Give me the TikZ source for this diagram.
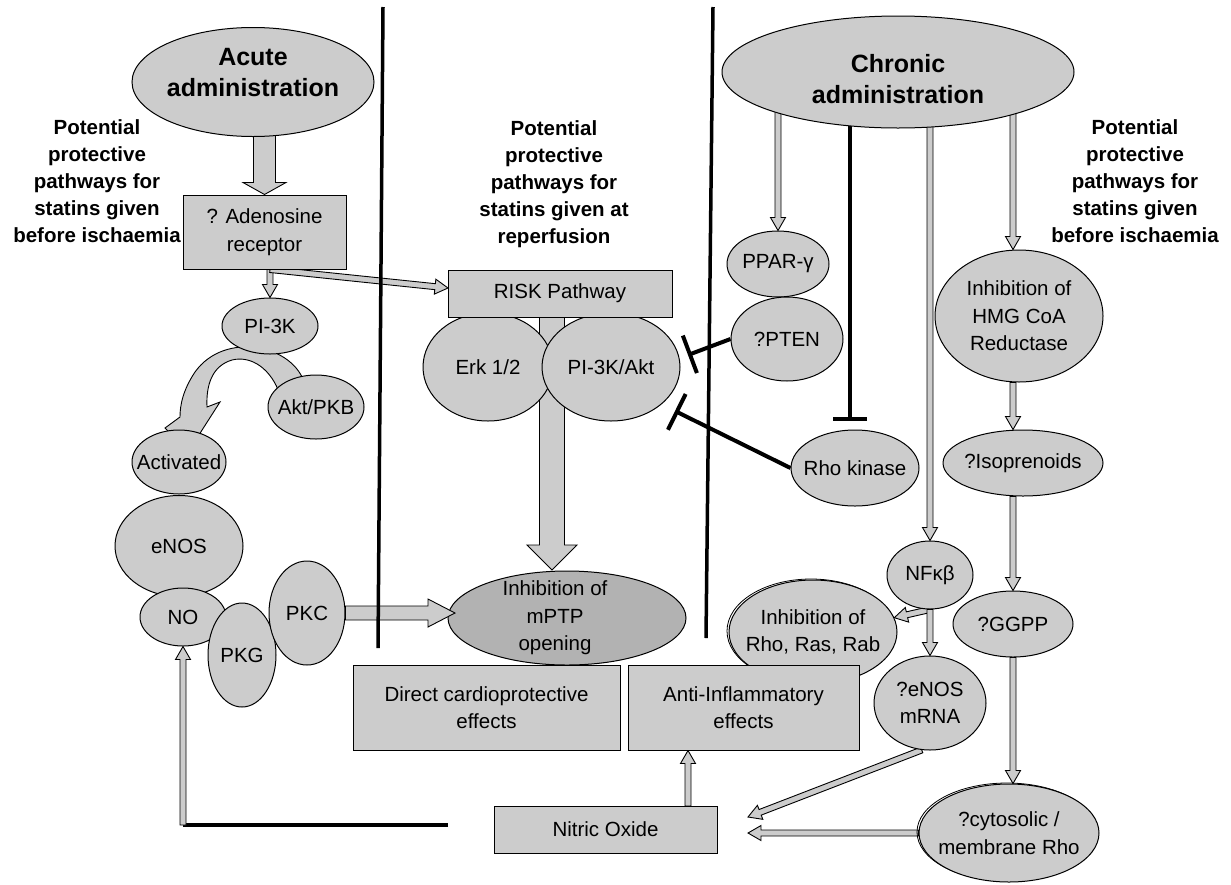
\documentclass[tikz,border=0pt]{standalone}
\usepackage{fontspec}
\setmainfont{Liberation Sans}
\usetikzlibrary{shapes.geometric,arrows.meta,calc}
\definecolor{cellgrey}{HTML}{CCCCCC}
\definecolor{poregrey}{HTML}{B2B2B2}
\pgfdeclarelayer{back}
\pgfsetlayers{back,main}

% outlined block arrow: [style]{from}{to}{half shaft}{half head}{head length}
\newcommand{\blockarrow}[6][]{%
  \coordinate (ba-base) at ($(#3)!#6!(#2)$);
  \draw[arrowbody,#1] ($(#2)!#4!90:(#3)$) -- ($(ba-base)!#4!90:(#3)$)
    -- ($(ba-base)!#5!90:(#3)$) -- (#3) -- ($(ba-base)!#5!-90:(#3)$)
    -- ($(ba-base)!#4!-90:(#3)$) -- ($(#2)!#4!-90:(#3)$) -- cycle;
}

\begin{document}
\begin{tikzpicture}[x=1pt,y=-1pt,
  cell/.style={ellipse, draw, fill=cellgrey, line width=1pt, inner sep=-25pt, align=center, font=\fontsize{20.5}{27.5}\selectfont},
  panel/.style={rectangle, draw, fill=cellgrey, line width=1pt, inner sep=0pt, align=center, font=\fontsize{20.5}{27.5}\selectfont},
  dims/.style 2 args={minimum width=#1pt, minimum height=#2pt},
  ghost/.style={preaction={draw, line width=0.8pt, transform canvas={xshift=-2pt, yshift=1pt}}},
  admin/.style={ellipse, draw, fill=cellgrey, line width=1pt, inner sep=0pt},
  admintext/.style={font=\fontsize{25}{31}\selectfont\bfseries, align=center},
  heading/.style={font=\fontsize{20.5}{27}\selectfont\bfseries, align=center},
  arrowbody/.style={draw, fill=cellgrey, line width=0.9pt},
  divider/.style={line width=3.5pt},
  inhibit/.style={line width=4pt, -{Bar[width=40pt]}}]

\useasboundingbox (0,0) rectangle (1231,884);

% Administration routes
\node[admin, dims={242}{109}, label={[admintext, yshift=9pt]center:Acute\\administration}] (acute) at (253,82) {};
\node[admin, dims={352}{112}, label={[admintext, yshift=-7pt]center:Chronic\\administration}] (chronic) at (898,72) {};

% Notes
\node[heading] (acute-note) at (97,181) {Potential\\protective\\pathways for\\statins given\\before ischaemia};
\node[heading] (reperf-note) at (554,184) {Potential\\protective\\pathways for\\statins given at\\reperfusion};
\node[heading] (chronic-note) at (1135,181) {Potential\\protective\\pathways for\\statins given\\before ischaemia};

% Acute pathway
\node[panel, dims={163}{74}] (adeno) at (264.5,232) {? Adenosine\\receptor};
\node[cell, dims={96}{56}] (pi3k) at (270,326) {PI-3K};
\node[cell, dims={96}{64}] (akt) at (316,407) {Akt/PKB};
\node[cell, dims={94}{64}] (activated) at (179,462) {Activated};
\node[cell, dims={128}{101}] (enos) at (179,546) {eNOS};
\node[cell, dims={86}{58}] (no) at (183,617) {NO};
\node[cell, dims={68}{104}] (pkg) at (242,655) {PKG};
\node[cell, dims={76}{104}] (pkc) at (307,613) {PKC};

% Reperfusion pathway
\node[cell, dims={130}{108}] (erk) at (488,367) {Erk 1/2};
\node[cell, dims={138}{108}] (pi3kakt) at (611,367) {PI-3K/Akt};
\node[panel, dims={224}{47}] (risk) at (560,293.5) {RISK Pathway};
\node[cell, fill=poregrey, dims={238}{94}, label={[cell, draw=none, fill=none, xshift=-12pt]center:Inhibition of\\mPTP\\opening}] (mptp) at (567,618) {};

% Chronic pathway
\node[cell, dims={102}{66}] (ppar) at (778,264) {PPAR-γ};
\node[cell, dims={112}{84}] (pten) at (787,339) {?PTEN};
\node[cell, dims={128}{76}] (rhok) at (855,468) {Rho kinase};
\node[cell, dims={168}{132}] (hmg) at (1019,316) {Inhibition of\\HMG CoA\\Reductase};
\node[cell, dims={160}{66}] (iso) at (1023,463) {?Isoprenoids};
\node[cell, dims={86}{68}] (nfkb) at (930,575) {NFκβ};
\node[cell, dims={120}{66}] (ggpp) at (1013,624) {?GGPP};
\node[cell, ghost, dims={168}{104}] (rhoinh) at (813,632) {Inhibition of\\Rho, Ras, Rab};
\node[cell, dims={112}{94}] (mrna) at (930,703) {?eNOS\\mRNA};
\node[cell, ghost, dims={180}{98}] (cyto) at (1009,833) {?cytosolic /\\membrane Rho};

% Effects
\node[panel, dims={267}{85}] (direct) at (486.5,707.5) {Direct cardioprotective\\effects};
\node[panel, dims={231}{85}] (anti) at (743.5,707.5) {Anti-Inflammatory\\effects};
\node[panel, dims={223}{47}] (nitric) at (605.5,829.5) {Nitric Oxide};

% Free ends
\coordinate (adeno-out) at (adeno.south -| pi3k.north);
\coordinate (risk-in) at (448,288);
\coordinate (mptp-top) at (552,570);
\coordinate (mptp-left) at (455,613);
\coordinate (no-bend) at (183,825);
\coordinate (no-line) at (448,825);
\coordinate (nitric-up) at (688,806);
\coordinate (nitric-in1) at (748,817);
\coordinate (nitric-in2) at (748,833);
\coordinate (pten-bar) at (688,355);
\coordinate (rho-bar) at (675,411);
\coordinate (rhok-bar) at (850,421);

\begin{pgfonlayer}{back}
% Akt activates eNOS
\draw[arrowbody] (305,385) .. controls (295,345) and (225,330) .. (195,372)
  .. controls (183,390) and (180,405) .. (180,417) -- (165,428) -- (188,452) -- (220,402)
  -- (207,407) .. controls (206,385) and (212,366) .. (232,360)
  .. controls (252,355) and (272,370) .. (280,395) -- cycle;

% Acute arrows
\blockarrow{adeno.north |- acute.center}{adeno.north}{11pt}{21.5pt}{12pt}
\blockarrow{adeno-out}{pi3k.north}{3pt}{7.5pt}{13pt}
\blockarrow{adeno-out}{risk-in}{3pt}{7.5pt}{13pt}
\blockarrow{mptp-top |- risk.center}{mptp-top}{12.5pt}{25pt}{25pt}
\draw[line width=4pt] (no-line) -- (no-bend);
\blockarrow{no-bend}{no.south}{3pt}{7.5pt}{13pt}

% Chronic arrows
\blockarrow{chronic.center -| ppar.north}{ppar.north}{3pt}{7.5pt}{13pt}
\blockarrow{chronic.center -| nfkb.north}{nfkb.north}{3pt}{7.5pt}{13pt}
\blockarrow{chronic.center -| ggpp.north}{hmg.north -| ggpp.north}{3pt}{7.5pt}{13pt}
\blockarrow{hmg.south -| ggpp.north}{iso.north -| ggpp.north}{3pt}{7.5pt}{13pt}
\blockarrow{iso.south -| ggpp.north}{ggpp.north}{3pt}{7.5pt}{13pt}
\blockarrow{ggpp.south}{cyto.north -| ggpp.south}{3pt}{7.5pt}{13pt}
\blockarrow{nfkb.south}{rhoinh.10}{3pt}{7.5pt}{13pt}
\blockarrow{nfkb.south}{mrna.north}{3pt}{7.5pt}{13pt}
\blockarrow{mrna.260}{nitric-in1}{3pt}{7.5pt}{13pt}
\blockarrow{cyto.west}{nitric-in2}{3pt}{7.5pt}{13pt}
\blockarrow{nitric-up}{nitric-up |- anti.south}{3pt}{7.5pt}{13pt}

% Inhibitions
\draw[inhibit] (pten.west) -- (pten-bar);
\draw[inhibit] (rhok.west) -- (rho-bar);
\draw[inhibit, -{Bar[width=34pt]}] (chronic.center -| rhok-bar) -- (rhok-bar);
\end{pgfonlayer}

\blockarrow{pkc.east}{mptp-left}{7pt}{14pt}{27pt}

% Dividers
\draw[divider] (383,7) -- (378,648);
\draw[divider] (713,7) -- (706,638);

\end{tikzpicture}
\end{document}
